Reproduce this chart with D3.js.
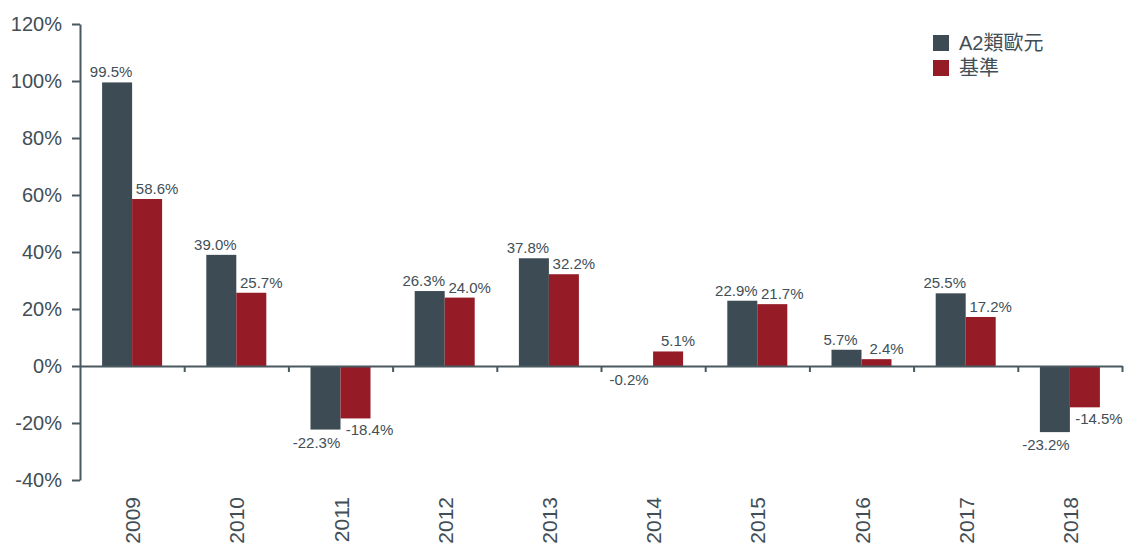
<!DOCTYPE html>
<html>
<head>
<meta charset="utf-8">
<script src="https://cdn.jsdelivr.net/npm/d3@7"></script>
<style>
  body { margin: 0; background: #fff; }
  svg { display: block; font-family: "Liberation Sans", Arial, "Noto Sans CJK TC", sans-serif; }
</style>
</head>
<body>
<svg></svg>
<script>
const years = ['2009', '2010', '2011', '2012', '2013', '2014', '2015', '2016', '2017', '2018'];
const fundValues = [99.5, 39.0, -22.3, 26.3, 37.8, -0.2, 22.9, 5.7, 25.5, -23.2];
const benchValues = [58.6, 25.7, -18.4, 24.0, 32.2, 5.1, 21.7, 2.4, 17.2, -14.5];
const seriesNames = ['A2類歐元', '基準'];
const yTicks = [-40, -20, 0, 20, 40, 60, 80, 100, 120];

const svgWidth = 1125;
const svgHeight = 544;
const dark = '#3d4c54';
const red = '#951b27';
const textColor = '#414e56';
const axisColor = '#4a5860';

const svg = d3.select('svg')
    .attr('width', svgWidth)
    .attr('height', svgHeight);

const xScale = d3.scaleBand()
    .domain(years)
    .range([80, 1122])
    .padding(0);

const yScale = d3.scaleLinear()
    .domain([-40, 120])
    .range([480, 24]);

const barW = 30;
const rows = years.map((y, i) => ({ year: y, fund: fundValues[i], bench: benchValues[i] }));

// bars
const groups = svg.selectAll('g.year')
    .data(rows)
    .enter()
    .append('g')
    .attr('class', 'year')
    .attr('transform', d => `translate(${xScale(d.year) + xScale.bandwidth() / 2}, 0)`);

groups.append('rect')
    .attr('x', -barW)
    .attr('y', d => yScale(Math.max(0, d.fund)))
    .attr('width', barW)
    .attr('height', d => Math.abs(yScale(d.fund) - yScale(0)))
    .attr('fill', dark);

groups.append('rect')
    .attr('x', 0)
    .attr('y', d => yScale(Math.max(0, d.bench)))
    .attr('width', barW)
    .attr('height', d => Math.abs(yScale(d.bench) - yScale(0)))
    .attr('fill', red);

// value labels
groups.append('text')
    .attr('x', d => -barW / 2 + (d.fund >= 0 ? -6 : -9))
    .attr('y', d => d.fund >= 0 ? yScale(d.fund) - 5 : yScale(d.fund) + 18)
    .attr('text-anchor', 'middle')
    .attr('font-size', '15px')
    .attr('fill', textColor)
    .text(d => d.fund.toFixed(1) + '%');

groups.append('text')
    .attr('x', d => barW / 2 + (d.bench >= 0 ? 10 : 14))
    .attr('y', d => d.bench >= 0 ? yScale(d.bench) - 5 : yScale(d.bench) + 17)
    .attr('text-anchor', 'middle')
    .attr('font-size', '15px')
    .attr('fill', textColor)
    .text(d => d.bench.toFixed(1) + '%');

// y axis
const yAxis = svg.append('g')
    .attr('transform', 'translate(80, 0)')
    .call(d3.axisLeft(yScale).tickValues(yTicks).tickSize(8).tickSizeOuter(0).tickPadding(10)
        .tickFormat(d => d + '%'));
yAxis.select('.domain').attr('stroke', axisColor).attr('stroke-width', 2);
yAxis.selectAll('.tick line').attr('stroke', axisColor).attr('stroke-width', 2);
yAxis.selectAll('.tick text')
    .attr('font-size', '20px')
    .attr('font-family', '"Liberation Sans", Arial, sans-serif')
    .attr('fill', textColor);

// zero line with boundary ticks
const boundary = d3.scaleLinear().domain([0, years.length]).range(xScale.range());
const xAxis = svg.append('g')
    .attr('transform', `translate(0, ${yScale(0)})`)
    .call(d3.axisBottom(boundary).tickValues(d3.range(1, years.length + 1)).tickSize(6)
        .tickSizeOuter(0).tickFormat(''));
xAxis.select('.domain').attr('stroke', axisColor).attr('stroke-width', 2);
xAxis.selectAll('.tick line').attr('stroke', axisColor).attr('stroke-width', 2);

// year labels
svg.selectAll('text.yearLabel')
    .data(years)
    .enter()
    .append('text')
    .attr('class', 'yearLabel')
    .attr('transform', d => `translate(${xScale(d) + xScale.bandwidth() / 2 + 8}, 497) rotate(-90)`)
    .attr('text-anchor', 'end')
    .attr('font-size', '21px')
    .attr('fill', textColor)
    .text(d => d);

// legend
const legend = svg.append('g').attr('transform', 'translate(933, 35)');
const legendItems = legend.selectAll('g')
    .data(seriesNames)
    .enter()
    .append('g')
    .attr('transform', (d, i) => `translate(0, ${i * 25})`);
legendItems.append('rect')
    .attr('width', 16)
    .attr('height', 16)
    .attr('fill', (d, i) => i === 0 ? dark : red);
legendItems.append('text')
    .attr('x', 26)
    .attr('y', 15)
    .attr('font-size', '20px')
    .attr('fill', textColor)
    .text(d => d);
</script>
</body>
</html>
